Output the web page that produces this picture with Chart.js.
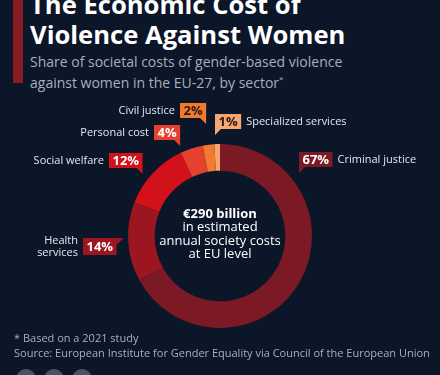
<!DOCTYPE html>
<html>
<head>
<meta charset="utf-8">
<script src="https://cdn.jsdelivr.net/npm/chart.js@4"></script>
<style>
  html, body { margin: 0; padding: 0; background: #0b1629; }
  #wrap { position: relative; width: 440px; height: 375px; overflow: hidden; background: #0b1629; font-family: "Open Sans", sans-serif; }
  #bar { position: absolute; left: 13px; top: 0; width: 10px; height: 83px; background: #8a1c25; }
  #title { position: absolute; left: 30px; top: -10px; color: #fff; font-weight: 700; font-size: 25.6px; line-height: 30px; white-space: nowrap; }
  #sub { position: absolute; left: 30px; top: 53px; color: #a9b0bc; font-size: 14px; line-height: 17px; white-space: nowrap; }
  #sub sup { font-size: 8px; }
  #foot { position: absolute; left: 14px; top: 330px; color: #a9b0bc; font-size: 11px; line-height: 15px; white-space: nowrap; }
  canvas { position: absolute; left: 0; top: 0; }
  .dot { position: absolute; top: 369px; width: 20px; height: 20px; border-radius: 50%; background: #4a5262; }
</style>
</head>
<body>
<div id="wrap">
  <div id="bar"></div>
  <div id="title">The Economic Cost of<br>Violence Against Women</div>
  <div id="sub">Share of societal costs of gender-based violence<br>against women in the EU-27, by sector<sup>*</sup></div>
  <canvas id="myChart" width="440" height="375"></canvas>
  <div id="foot">* Based on a 2021 study<br>Source: European Institute for Gender Equality via Council of the European Union</div>
  <div class="dot" style="left:16px"></div>
  <div class="dot" style="left:44px"></div>
  <div class="dot" style="left:72px"></div>
</div>
<script>
const sectors = ['Criminal justice', 'Health services', 'Social welfare', 'Personal cost', 'Civil justice', 'Specialized services'];
const shares = [67, 14, 12, 4, 2, 1];
const colors = ['#7b1a25', '#9b1620', '#d3111b', '#e6402f', '#f17a30', '#f6a66e'];
const centerLines = ['€290 billion', 'in estimated', 'annual society costs', 'at EU level'];

// callout placement relative to the doughnut centre (layout only)
// side: where the label text sits, tail: shape of the pointer
const callouts = [
  { dx: 79, dy: -84, side: 'right', tail: 'bl', label: ['Criminal justice'] },
  { dx: -137, dy: 2, side: 'left', tail: 'r', label: ['Health', 'services'] },
  { dx: -111, dy: -83, side: 'left', tail: 'br', label: ['Social welfare'] },
  { dx: -66, dy: -111, side: 'left', tail: 'br', label: ['Personal cost'] },
  { dx: -40, dy: -133, side: 'left', tail: 'br', label: ['Civil justice'] },
  { dx: -5, dy: -122, side: 'right', tail: 'bl', label: ['Specialized services'] }
];
const darkText = [false, false, false, false, true, true];

const calloutPlugin = {
  id: 'callouts',
  afterDraw(chart) {
    const ctx = chart.ctx;
    const arc = chart.getDatasetMeta(0).data[0];
    const cx = arc.x, cy = arc.y;

    // centre text
    ctx.save();
    ctx.textAlign = 'center';
    ctx.textBaseline = 'middle';
    ctx.fillStyle = '#ffffff';
    centerLines.forEach((t, i) => {
      ctx.font = (i === 0 ? '700 ' : '400 ') + '13px "Open Sans"';
      ctx.fillText(t, cx, cy - 22 + i * 13.5);
    });

    shares.forEach((v, i) => {
      const c = callouts[i];
      const txt = v + '%';
      ctx.font = '700 13px "Open Sans"';
      const w = ctx.measureText(txt).width + 7;
      const h = c.tail === 'r' ? 17 : 15;
      const x = cx + c.dx, y = cy + c.dy;
      ctx.fillStyle = colors[i];
      ctx.fillRect(x, y, w, h);
      ctx.beginPath();
      if (c.tail === 'br') {
        ctx.moveTo(x + w - 6, y + h); ctx.lineTo(x + w, y + h); ctx.lineTo(x + w, y + h + 6);
      } else if (c.tail === 'bl') {
        ctx.moveTo(x, y + h); ctx.lineTo(x + 6, y + h); ctx.lineTo(x, y + h + 6);
      } else {
        ctx.moveTo(x + w, y); ctx.lineTo(x + w + 7, y); ctx.lineTo(x + w, y + 7);
      }
      ctx.closePath();
      ctx.fill();
      ctx.fillStyle = darkText[i] ? '#2a1a14' : '#ffffff';
      ctx.textAlign = 'center';
      ctx.textBaseline = 'middle';
      ctx.fillText(txt, x + w / 2, y + h / 2 + 0.5);

      ctx.font = '400 11px "Open Sans"';
      ctx.fillStyle = '#e6e8ec';
      const n = c.label.length;
      c.label.forEach((l, j) => {
        const ly = y + h / 2 + 0.5 + (j - (n - 1) / 2) * 11.5;
        if (c.side === 'right') {
          ctx.textAlign = 'left';
          ctx.fillText(l, x + w + 5, ly);
        } else {
          ctx.textAlign = 'right';
          ctx.fillText(l, x - 5, ly);
        }
      });
    });
    ctx.restore();
  }
};

const config = {
  type: 'doughnut',
  data: {
    labels: sectors,
    datasets: [{
      data: shares,
      backgroundColor: colors,
      borderWidth: 0
    }]
  },
  options: {
    responsive: false,
    animation: false,
    cutout: '71%',
    rotation: 0,
    layout: { padding: { left: 128, right: 128, top: 144, bottom: 47 } },
    plugins: {
      legend: { display: false },
      tooltip: { enabled: false }
    }
  },
  plugins: [calloutPlugin]
};

window.onload = () => {
  new Chart(document.getElementById('myChart'), config);
};
</script>
</body>
</html>
